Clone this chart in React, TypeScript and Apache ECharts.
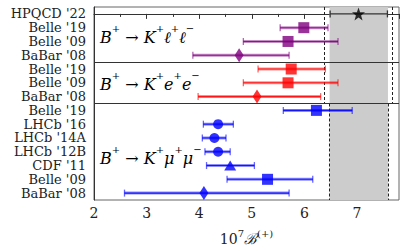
import React, { useEffect, useRef } from "react";
import * as echarts from "echarts";

// ---- data ----
const labels = [
  "HPQCD '22", "Belle '19", "Belle '09", "BaBar '08",
  "Belle '19", "Belle '09", "BaBar '08",
  "Belle '19", "LHCb '16", "LHCb '14A", "LHCb '12B", "CDF '11", "Belle '09", "BaBar '08",
];
const central = [7.03, 5.99, 5.69, 4.76, 5.75, 5.69, 5.10, 6.23, 4.36, 4.29, 4.36, 4.59, 5.30, 4.09];
const lower = [6.49, 5.54, 4.84, 3.88, 5.12, 4.84, 3.98, 5.60, 4.08, 4.06, 4.11, 4.14, 4.53, 2.58];
const upper = [7.58, 6.45, 6.64, 5.71, 6.40, 6.64, 6.31, 6.91, 4.65, 4.51, 4.59, 5.05, 6.16, 5.71];
const shapes = ["star", "square", "square", "diamond", "square", "square", "diamond",
  "square", "circle", "circle", "circle", "triangle", "square", "diamond"];
const groups = [0, 1, 1, 1, 2, 2, 2, 3, 3, 3, 3, 3, 3, 3];
const groupColors = ["#000000", "#800080", "#ff0000", "#0000ff"];
const panelTitles = [
  "{i|B}{s|+}{n| → }{i|K}{s|+}{i|ℓ}{s|+}{i|ℓ}{s|−}",
  "{i|B}{s|+}{n| → }{i|K}{s|+}{i|e}{s|+}{i|e}{s|−}",
  "{i|B}{s|+}{n| → }{i|K}{s|+}{i|μ}{s|+}{i|μ}{s|−}",
];
const panelTitleRows = [1.5, 4.85, 10.05];
const separators = [3.5, 6.5];
const bandRange = [6.48, 7.59];
const topDashed = [6.38, 7.67];
const bottomDashed = [6.47, 7.595];
const xMin = 2;
const xMax = 7.8;

const FONT = "DejaVu Serif, Liberation Serif, serif";
const starPath =
  "path://M0,-10 L2.35,-3.24 L9.51,-3.09 L3.8,1.24 L5.88,8.09 L0,4 L-5.88,8.09 L-3.8,1.24 L-9.51,-3.09 L-2.35,-3.24 Z";

function symbolFor(s: string) {
  if (s === "star") return { symbol: starPath, size: 13 };
  if (s === "square") return { symbol: "rect", size: 11 };
  if (s === "diamond") return { symbol: "diamond", size: [9, 14] };
  if (s === "circle") return { symbol: "circle", size: 10 };
  return { symbol: "triangle", size: [12, 10] };
}

function hexA(hex: string, a: number) {
  const r = parseInt(hex.slice(1, 3), 16);
  const g = parseInt(hex.slice(3, 5), 16);
  const b = parseInt(hex.slice(5, 7), 16);
  return `rgba(${r},${g},${b},${a})`;
}

export default function App() {
  const ref = useRef<HTMLDivElement>(null);
  useEffect(() => {
    document.body.style.margin = "0";
    const chart = echarts.init(ref.current!, null, { renderer: "svg" });
    const nRows = labels.length;
    const gridTop = 7;
    const gridBottom = 46;
    const H = 251;
    const rowH = (H - gridTop - gridBottom) / nRows;

    const scatterData = central.map((x, i) => {
      const s = symbolFor(shapes[i]);
      return {
        value: [x, i],
        symbol: s.symbol,
        symbolSize: s.size,
        itemStyle: { color: groupColors[groups[i]] },
      };
    });
    const barData = central.map((_, i) => [lower[i], upper[i], i]);

    const dashedLines: any[] = [];
    topDashed.forEach((x) => dashedLines.push([{ coord: [x, -0.5] }, { coord: [x, 6.5] }]));
    bottomDashed.forEach((x) => dashedLines.push([{ coord: [x, 6.5] }, { coord: [x, 13.5] }]));
    const sepLines = separators.map((y) => [{ coord: [xMin, y] }, { coord: [xMax, y] }]);

    const richPanel = {
      i: { fontFamily: FONT, fontStyle: "italic", fontSize: 16, lineHeight: 22, verticalAlign: "bottom", color: "#000" },
      n: { fontFamily: FONT, fontSize: 16, lineHeight: 22, verticalAlign: "bottom", color: "#000" },
      s: { fontFamily: FONT, fontSize: 10, lineHeight: 10, verticalAlign: "top", color: "#000" },
    };

    chart.setOption({
      animation: false,
      grid: {
        left: 94, right: 8, top: gridTop, bottom: gridBottom,
        show: true, borderColor: "#666", borderWidth: 1, backgroundColor: "transparent",
      },
      xAxis: {
        type: "value", min: xMin, max: xMax, interval: 1,
        axisLine: { show: true, lineStyle: { color: "#333", width: 1 } },
        axisTick: { show: true, length: 5, lineStyle: { color: "#333" } },
        minorTick: { show: true, splitNumber: 2, length: 3, lineStyle: { color: "#333" } },
        splitLine: { show: false },
        axisLabel: { showMaxLabel: false, fontFamily: FONT, fontSize: 14, color: "#222", margin: 6 },
        name: "{n|10}{s|7}{b|ℬ}{s|(+)}",
        nameLocation: "middle",
        nameGap: 28,
        nameTextStyle: {
          rich: {
            n: { fontFamily: FONT, fontSize: 14, lineHeight: 18, verticalAlign: "bottom", color: "#222" },
            b: { fontFamily: FONT, fontSize: 15, fontStyle: "italic", lineHeight: 18, verticalAlign: "bottom", color: "#222" },
            s: { fontFamily: FONT, fontSize: 10, lineHeight: 9, verticalAlign: "top", color: "#222" },
          },
        },
      },
      yAxis: [
        {
          type: "category", inverse: true,
          data: labels.map((_, i) => String(i)),
          axisLine: { show: true, lineStyle: { color: "#333" } },
          axisTick: { show: false },
          axisLabel: {
            interval: 0,
            formatter: (v: string) => labels[Number(v)],
            fontFamily: FONT, fontSize: 13, lineHeight: 13, color: "#222", margin: 8,
          },
        },
        {
          type: "value", inverse: true, min: -0.5, max: 13.5, show: false,
          splitLine: { show: false },
        },
      ],
      graphic: panelTitles.map((t, k) => ({
        type: "text",
        left: 100,
        top: gridTop + (panelTitleRows[k] + 0.5) * rowH - 12,
        z: 10,
        style: { text: t, rich: richPanel },
      })),
      series: [
        {
          type: "custom",
          yAxisIndex: 1,
          z: 1,
          data: [],
          renderItem: () => null,
          markArea: {
            silent: true,
            itemStyle: { color: "#cccccc" },
            data: [[{ coord: [bandRange[0], -0.5] }, { coord: [bandRange[1], 13.5] }]],
          },
        },
        {
          type: "custom",
          yAxisIndex: 1,
          z: 3,
          data: [],
          renderItem: () => null,
          markLine: {
            silent: true, symbol: "none", label: { show: false },
            lineStyle: { color: "#222", type: [3, 2], width: 1 },
            data: dashedLines,
          },
        },
        {
          type: "custom",
          yAxisIndex: 1,
          z: 4,
          data: [],
          renderItem: () => null,
          markLine: {
            silent: true, symbol: "none", label: { show: false },
            lineStyle: { color: "#333", type: "solid", width: 1.2 },
            data: sepLines,
          },
        },
        {
          type: "custom",
          yAxisIndex: 1,
          z: 5,
          data: barData,
          renderItem: (params: any, api: any) => {
            const i = params.dataIndex;
            const p0 = api.coord([api.value(0), api.value(2)]);
            const p1 = api.coord([api.value(1), api.value(2)]);
            const col = groupColors[groups[i]];
            const isTheory = groups[i] === 0;
            const light = isTheory ? "#333" : hexA(col, 0.45);
            const core = isTheory ? "#333" : hexA(col, 0.85);
            const ch = 3.5;
            return {
              type: "group",
              children: [
                ...(isTheory ? [] : [{
                  type: "line",
                  shape: { x1: p0[0], y1: p0[1], x2: p1[0], y2: p1[1] },
                  style: { stroke: light, lineWidth: 3 },
                }]),
                {
                  type: "line",
                  shape: { x1: p0[0], y1: p0[1], x2: p1[0], y2: p1[1] },
                  style: { stroke: core, lineWidth: 1.1 },
                },
                {
                  type: "line",
                  shape: { x1: p0[0], y1: p0[1] - ch, x2: p0[0], y2: p0[1] + ch },
                  style: { stroke: isTheory ? "#333" : hexA(col, 0.6), lineWidth: 1.3 },
                },
                {
                  type: "line",
                  shape: { x1: p1[0], y1: p1[1] - ch, x2: p1[0], y2: p1[1] + ch },
                  style: { stroke: isTheory ? "#333" : hexA(col, 0.6), lineWidth: 1.3 },
                },
              ],
            };
          },
        },
        {
          type: "scatter",
          yAxisIndex: 1,
          z: 6,
          data: scatterData,
        },
      ],
    });
    return () => chart.dispose();
  }, []);
  return <div ref={ref} style={{ width: 407, height: 251 }} />;
}
